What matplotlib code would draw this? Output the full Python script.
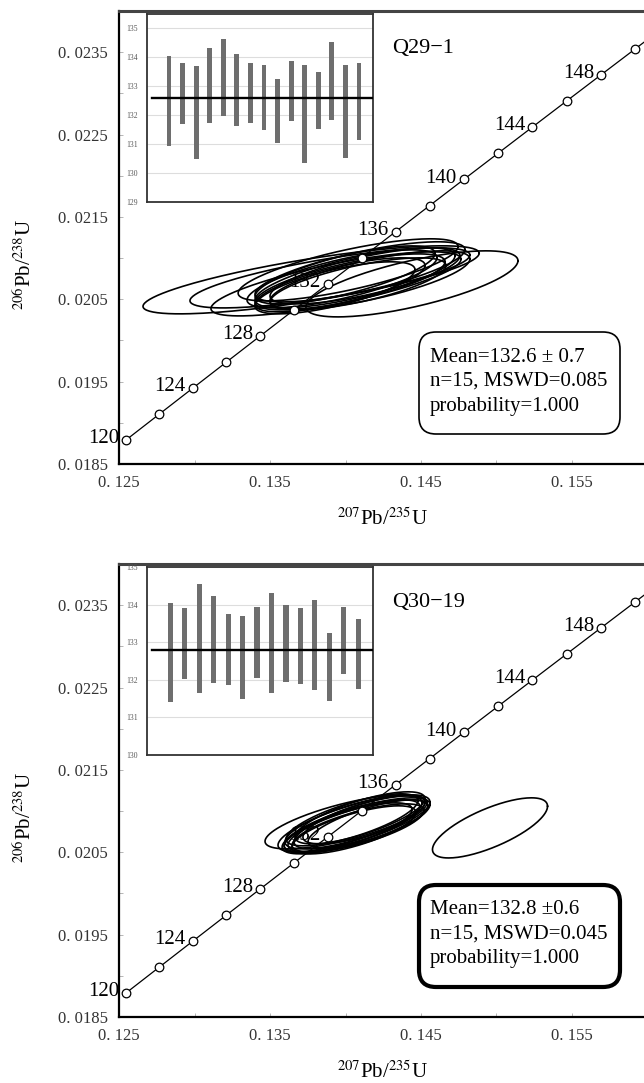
import numpy as np
import matplotlib
matplotlib.use("Agg")
import matplotlib.pyplot as plt
from matplotlib.patches import FancyBboxPatch
from matplotlib.ticker import FixedLocator, FuncFormatter

plt.rcParams['font.family'] = ['Liberation Serif', 'DejaVu Serif']
plt.rcParams['mathtext.fontset'] = 'stix'

# decay constants (1/yr)
L238 = 1.55125e-10
L235 = 9.8485e-10

# concordia markers (Ma) and which of them get a label
conc_ages = [120, 122, 124, 126, 128, 130, 132, 134, 136, 138, 140, 142, 144,
             146, 148, 150, 152, 154, 156]
conc_labels = [120, 124, 128, 132, 136, 140, 144, 148]

# ---- Q29-1 ----
q29_x = [0.13772, 0.13897, 0.13937, 0.14440, 0.13997, 0.14030, 0.14063, 0.13964,
         0.14096, 0.14129, 0.13930, 0.14162, 0.14017, 0.14083, 0.13977]
q29_sx = [0.01113, 0.00927, 0.00828, 0.00702, 0.00596, 0.00629, 0.00662, 0.00563,
          0.00695, 0.00629, 0.00530, 0.00662, 0.00728, 0.00583, 0.00629]
q29_y = [0.020736, 0.020760, 0.020687, 0.020687, 0.020796, 0.020711, 0.020760, 0.020675,
         0.020833, 0.020784, 0.020639, 0.020736, 0.020857, 0.020687, 0.020748]
q29_sy = [0.000413, 0.000365, 0.000389, 0.000401, 0.000352, 0.000340, 0.000365, 0.000328,
          0.000365, 0.000340, 0.000316, 0.000352, 0.000377, 0.000316, 0.000352]
q29_rho = [0.78, 0.76, 0.77, 0.70, 0.74, 0.72, 0.73, 0.72, 0.74, 0.72, 0.70, 0.72, 0.75, 0.70, 0.73]
q29_hi = [134.05, 133.79, 133.71, 134.31, 134.64, 134.11, 133.81, 133.72, 133.25, 133.87,
          133.72, 133.50, 134.52, 133.74, 133.79]
q29_lo = [130.93, 131.69, 130.47, 131.74, 131.97, 131.62, 131.74, 131.49, 131.04, 131.79,
          130.35, 131.52, 131.85, 130.52, 131.14]
q29_mean = 132.6
q29_text = ["Mean=132.6 \u00b1 0.7", "n=15, MSWD=0.085", "probability=1.000"]

# ---- Q30-19 ----
q30_x = [0.13997, 0.14043, 0.14063, 0.14083, 0.14030, 0.14096, 0.14056, 0.14109,
         0.14017, 0.14129, 0.14070, 0.14149, 0.14043, 0.14083, 0.14957]
q30_sx = [0.00530, 0.00450, 0.00464, 0.00437, 0.00477, 0.00430, 0.00411, 0.00450,
          0.00424, 0.00411, 0.00490, 0.00397, 0.00437, 0.00464, 0.00381]
q30_y = [0.020869, 0.020821, 0.020869, 0.020796, 0.020845, 0.020918, 0.020772, 0.020869,
         0.020796, 0.020894, 0.020821, 0.020845, 0.020894, 0.020821, 0.020796]
q30_sy = [0.000328, 0.000316, 0.000328, 0.000292, 0.000340, 0.000316, 0.000292, 0.000328,
          0.000304, 0.000292, 0.000340, 0.000292, 0.000316, 0.000316, 0.000365]
q30_rho = [0.72, 0.74, 0.74, 0.72, 0.76, 0.74, 0.72, 0.74, 0.74, 0.72, 0.76, 0.74, 0.74, 0.74, 0.72]
q30_hi = [134.04, 133.91, 134.54, 134.22, 133.76, 133.70, 133.94, 134.31, 133.98, 133.92,
          134.13, 133.24, 133.94, 133.63]
q30_lo = [131.42, 132.01, 131.64, 131.91, 131.86, 131.48, 132.04, 131.66, 131.93, 131.89,
          131.72, 131.44, 132.16, 131.75]
q30_mean = 132.8
q30_text = ["Mean=132.8 \u00b10.6", "n=15, MSWD=0.045", "probability=1.000"]

W, H = 644, 1083
fig = plt.figure(figsize=(W / 100, H / 100), dpi=100)


def px(x, y):
    # pixel position (from top-left) to figure fraction
    return x / W, 1 - y / H


def draw_ellipse(ax, x, sx, y, sy, rho):
    t = np.linspace(0, 2 * np.pi, 181)
    ex = x + sx * np.cos(t)
    ey = y + sy * (rho * np.cos(t) + np.sqrt(1 - rho ** 2) * np.sin(t))
    ax.plot(ex, ey, color='black', lw=1.2, zorder=2)


def panel(top, name, xs, sxs, ys, sys_, rhos, hi, lo, mean, lines, box_lw, inset_ylim):
    bottom = top + 453
    l, b = px(119, bottom)
    ax = fig.add_axes([l, b, 604 / W, 453 / H])
    ax.set_xlim(0.125, 0.165)
    ax.set_ylim(0.0185, 0.024)

    for i in range(len(xs)):
        draw_ellipse(ax, xs[i], sxs[i], ys[i], sys_[i], rhos[i])

    ages = np.array(conc_ages) * 1e6
    cx = np.exp(L235 * ages) - 1
    cy = np.exp(L238 * ages) - 1
    ax.plot(cx, cy, color='black', lw=0.9, zorder=3)
    ax.plot(cx, cy, 'o', ms=6.2, mfc='white', mec='black', mew=0.9, zorder=4)
    for a in conc_labels:
        xa = np.exp(L235 * a * 1e6) - 1
        ya = np.exp(L238 * a * 1e6) - 1
        # the 132 label sits under the ellipse cluster
        z = 1 if a == 132 else 5
        ax.annotate(str(a), (xa, ya), xytext=(-5, 1), textcoords='offset points',
                    ha='right', va='center', fontsize=15, zorder=z)

    ax.xaxis.set_major_locator(FixedLocator([0.125, 0.135, 0.145, 0.155]))
    ax.xaxis.set_minor_locator(FixedLocator([0.13, 0.14, 0.15, 0.16]))
    ax.yaxis.set_major_locator(FixedLocator([0.0185, 0.0195, 0.0205, 0.0215, 0.0225, 0.0235]))
    ax.yaxis.set_minor_locator(FixedLocator([0.019, 0.020, 0.021, 0.022, 0.023]))
    ax.xaxis.set_major_formatter(FuncFormatter(lambda v, p: f"{v:.3f}".replace(".", ". ")))
    ax.yaxis.set_major_formatter(FuncFormatter(lambda v, p: f"{v:.4f}".replace(".", ". ")))
    ax.tick_params(which='both', direction='in', length=3, width=0.6, color='#aaaaaa',
                   labelsize=12, labelcolor='#333333', pad=8)
    ax.spines['right'].set_visible(False)
    ax.spines['top'].set_color('#444444')
    ax.spines['top'].set_linewidth(2.2)
    for s in ('left', 'bottom'):
        ax.spines[s].set_color('black')
        ax.spines[s].set_linewidth(1.6)

    # axis titles
    fig.text(*px(25, top + 254), "$^{206}$Pb/$^{238}$U", rotation=90,
             ha='center', va='center', fontsize=15)
    fig.text(*px(382, bottom + 55), "$^{207}$Pb/$^{235}$U",
             ha='center', va='center', fontsize=15)
    fig.text(*px(392, top + 38), name, ha='left', va='center', fontsize=16)

    # stats box
    box_top = top + 321
    box = FancyBboxPatch((4.19, (H - box_top - 102) / 100), 2.01, 1.02,
                         boxstyle="round,pad=0,rounding_size=0.17",
                         transform=fig.dpi_scale_trans, fc='white', ec='black',
                         lw=box_lw, zorder=6)
    fig.patches.append(box)
    for k, line in enumerate(lines):
        fig.text(*px(430, box_top + 25 + 24.5 * k), line, ha='left', va='center',
                 fontsize=15, zorder=7)

    # inset of individual ages
    il, ib = px(147, top + 191)
    ia = fig.add_axes([il, ib, 226 / W, 188 / H])
    n = len(hi)
    pos = np.arange(1, n + 1)
    ia.bar(pos, np.array(hi) - np.array(lo), bottom=lo, width=0.36, color='#6e6e6e', zorder=3)
    ia.axhline(mean, xmin=0.02, xmax=1.0, color='black', lw=1.7, zorder=4)
    ia.set_xlim(1 - 1.62, n + 1.03)
    ia.set_ylim(*inset_ylim)
    ia.set_yticks(np.arange(int(np.ceil(inset_ylim[0])), int(inset_ylim[1]) + 1))
    ia.yaxis.grid(True, color='#dddddd', lw=0.8, zorder=0)
    ia.tick_params(left=False, bottom=False, labelbottom=False, labelsize=5.5,
                   labelcolor='#555555', pad=3)
    for s in ia.spines.values():
        s.set_color('#333333')
        s.set_linewidth(1.3)


panel(11, "Q29\u22121", q29_x, q29_sx, q29_y, q29_sy, q29_rho, q29_hi, q29_lo,
      q29_mean, q29_text, 1.2, (129, 135.5))
panel(564, "Q30\u221219", q30_x, q30_sx, q30_y, q30_sy, q30_rho, q30_hi, q30_lo,
      q30_mean, q30_text, 3.0, (130, 135))

fig.savefig("out.png", dpi=100)
